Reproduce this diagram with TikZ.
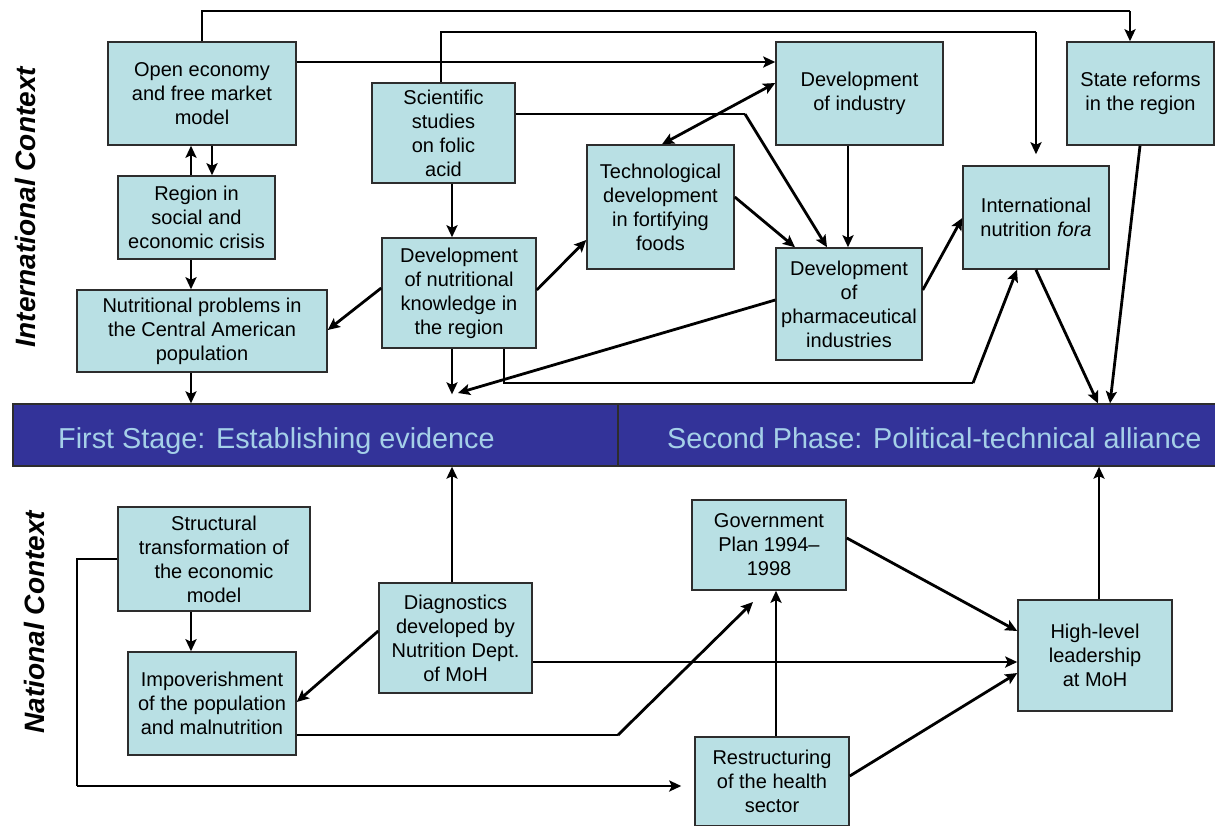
\documentclass[tikz,border=0pt]{standalone}
\usepackage{fontspec}
\setmainfont{Liberation Sans}
\usetikzlibrary{arrows.meta}

\definecolor{boxfill}{RGB}{185,224,228}
\definecolor{boxedge}{RGB}{45,45,45}
\definecolor{bandfill}{RGB}{51,51,153}
\definecolor{bandtext}{RGB}{165,208,232}

\tikzset{
  box/.style={draw=boxedge, line width=1.5pt, fill=boxfill, align=center,
    inner sep=0pt, font=\fontsize{20}{24}\selectfont},
  tip/.tip={Stealth[length=12pt,width=11pt,inset=2.5pt]},
  arr/.style={line width=2.8pt, -tip},
  dbl/.style={line width=2.8pt, tip-tip},
  wire/.style={line width=1.4pt},
  band/.style={draw=boxedge, line width=1.3pt, fill=bandfill, inner sep=0pt},
  bandlabel/.style={text=bandtext, font=\fontsize{28.8}{32}\selectfont,
    anchor=base west, inner sep=0pt},
  side/.style={font=\fontsize{28}{32}\selectfont\bfseries\itshape, rotate=90,
    inner sep=0pt}
}

% box given by its corners (x1,y1) and (x2,y2), y counted downwards
\newcommand\bx[6]{%
  \node[box, minimum width={#4-#2}, minimum height={#5-#3}]
    (#1) at ({(#2+#4)/2},{(#3+#5)/2}) {#6};}

\begin{document}
\begin{tikzpicture}[x=1pt,y=-1pt]
\useasboundingbox (0,0) rectangle (1215,825);

% phase band
\node[band, minimum width=605, minimum height=62] (stage1) at (315.5,435) {};
\node[band, minimum width=602, minimum height=62] (stage2) at (919,435) {};
\node[bandlabel] (t1) at (58,448) {First Stage: Establishing evidence};
\node[bandlabel] (t2) at (667,448) {Second Phase: Political-technical alliance};

% side headings
\node[side] (intl) at (25,207) {International Context};
\node[side] (natl) at (34,622) {National Context};

% international context
\bx{open}{108}{42}{296}{145}{Open economy\\and free market\\model}
\bx{crisis}{118}{176}{275}{259}{Region in\\social and\\economic crisis}
\bx{nutprob}{77}{290}{327}{372}{Nutritional problems in\\the Central American\\population}
\bx{folic}{372}{83}{515}{183}{Scientific\\studies\\on folic\\acid}
\bx{knowl}{382}{238}{536}{348}{Development\\of nutritional\\knowledge in\\the region}
\bx{tech}{587}{145}{734}{269}{Technological\\development\\in fortifying\\foods}
\bx{industry}{776}{42}{943}{145}{Development\\of industry}
\bx{state}{1067}{42}{1214}{145}{State reforms\\in the region}
\bx{fora}{963}{166}{1109}{269}{International\\nutrition \textit{fora}}
\bx{pharma}{776}{248}{922}{360}{Development\\of\\pharmaceutical\\industries}

% national context
\bx{struct}{118}{507}{310}{611}{Structural\\transformation of\\the economic\\model}
\bx{impov}{128}{652}{296}{755}{Impoverishment\\of the population\\and malnutrition}
\bx{diag}{379}{583}{532}{693}{Diagnostics\\developed by\\Nutrition Dept.\\of MoH}
\bx{plan}{692}{500}{846}{590}{Government\\Plan 1994–\\1998}
\bx{lead}{1018}{600}{1172}{711}{High-level\\leadership\\at MoH}
\bx{restr}{695}{737}{849}{826}{Restructuring\\of the health\\sector}

% --- connectors, international part
\draw[arr] (191,0 |- crisis.north) -- (191,0 |- open.south);
\draw[arr] (212,0 |- open.south) -- (212,0 |- crisis.north);
\draw[arr] (191,0 |- crisis.south) -- (191,0 |- nutprob.north);
\draw[arr] (191,0 |- nutprob.south) -- (191,0 |- stage1.north);

\coordinate (topA) at (1130,11);
\draw[wire] (202,0 |- open.north) |- (topA);
\draw[arr] (topA) -- (topA |- state.north);

\draw[arr] (open.east |- 0,62) -- (industry.west |- 0,62);

\coordinate (topB) at (1036,32);
\draw[wire] (441,0 |- folic.north) |- (topB);
\draw[arr, shorten >=11pt] (topB) -- (topB |- fora.north);

\coordinate (bendC) at (745,114);
\draw[wire] (folic.east |- bendC) -- (bendC);
\draw[arr] (bendC) -- (827,0 |- pharma.north);

\draw[arr] (452,0 |- folic.south) -- (452,0 |- knowl.north);
\draw[arr] (knowl.east |- 0,290) -- (tech.west |- 0,240);
\draw[dbl] (662,0 |- tech.north) -- (industry.west |- 0,83);
\draw[arr] (tech.east |- 0,197) -- (795,0 |- pharma.north);
\draw[arr] (848,0 |- industry.south) -- (848,0 |- pharma.north);
\draw[arr] (knowl.west |- 0,288) -- (nutprob.east |- 0,330);
\draw[arr, shorten >=9pt] (452,0 |- knowl.south) -- (452,0 |- stage1.north);

\coordinate (evid) at (458,393);
\draw[arr] (pharma.west |- 0,300) -- (evid);

\coordinate (bendD) at (504,383);
\coordinate (bendE) at (973,383);
\draw[wire] (504,0 |- knowl.south) -- (bendD) -- (bendE);
\draw[arr] (bendE) -- (1017,0 |- fora.south);

\draw[arr] (pharma.east |- 0,290) -- (fora.west |- 0,218);
\draw[arr] (1036,0 |- fora.south) -- (1098,0 |- stage2.north);
\draw[arr] (1140,0 |- state.south) -- (1110,0 |- stage2.north);

% --- connectors, national part
\draw[arr] (191,0 |- struct.south) -- (191,0 |- impov.north);

\coordinate (bendF) at (77,559);
\coordinate (bendG) at (77,786);
\draw[wire] (struct.west |- bendF) -- (bendF) -- (bendG);
\draw[arr, shorten >=13pt] (bendG) -- (restr.west |- bendG);

\draw[arr] (diag.west |- 0,631) -- (impov.east |- 0,702);

\coordinate (bendH) at (618,735);
\coordinate (planin) at (753,602);
\draw[wire] (impov.east |- bendH) -- (bendH);
\draw[arr] (bendH) -- (planin);

\draw[arr] (452,0 |- diag.north) -- (452,0 |- stage1.south);
\draw[arr] (diag.east |- 0,662) -- (lead.west |- 0,662);
\draw[arr] (776,0 |- restr.north) -- (776,0 |- plan.south);
\draw[arr] (plan.east |- 0,538) -- (lead.west |- 0,631);
\draw[arr] (restr.east |- 0,776) -- (lead.west |- 0,673);
\draw[arr] (1099,0 |- lead.north) -- (1099,0 |- stage2.south);
\end{tikzpicture}
\end{document}
